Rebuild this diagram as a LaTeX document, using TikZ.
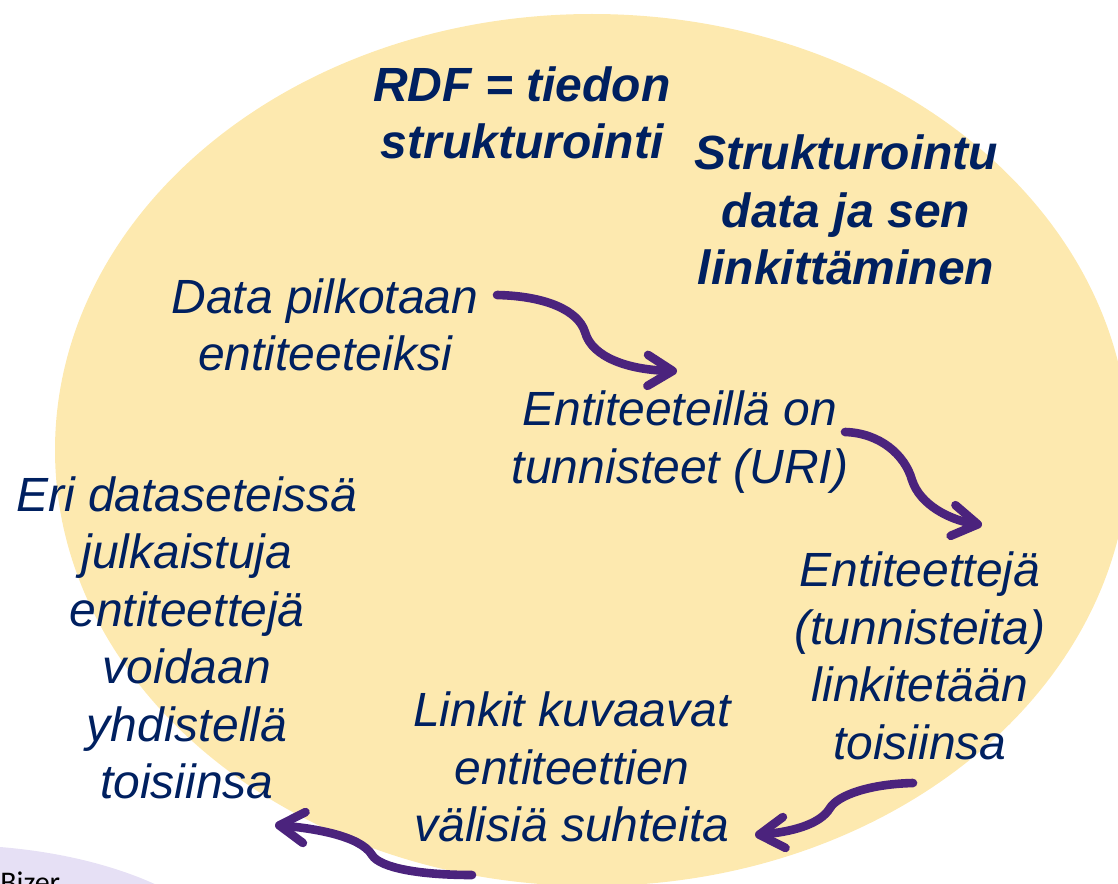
\documentclass[tikz,border=0pt]{standalone}
\usepackage{fontspec}
\setmainfont{Liberation Sans}
\newfontfamily\notefont{Carlito}
\usetikzlibrary{arrows.meta}
\definecolor{ovalyellow}{RGB}{253,233,175}
\definecolor{noteviolet}{RGB}{230,224,245}
\definecolor{textnavy}{RGB}{0,32,96}
\definecolor{arrowpurple}{RGB}{75,35,125}
\begin{document}
\begin{tikzpicture}[
	x=0.5pt, y=-0.5pt,
	idea/.style={align=center, inner sep=0pt, text=textnavy, font=\fontsize{24}{28.75}\selectfont\itshape},
	title/.style={idea, font=\fontsize{24}{28.75}\selectfont\bfseries\itshape},
	flow/.style={draw=arrowpurple, line width=4.3pt, line cap=round, -{Straight Barb[round, length=12.5pt, width=15.5pt]}}
]
\useasboundingbox (0,0) rectangle (1118,883);
\fill[noteviolet] (-50,990) ellipse [x radius=300, y radius=145];
\fill[ovalyellow] (592,450) ellipse [x radius=537, y radius=436];
\node[anchor=base west, inner sep=0pt, font=\notefont\fontsize{15}{18}\selectfont] (source) at (0,892) {Bizer};

\node[title] (rdf) at (522,113) {RDF = tiedon\\strukturointi};
\node[title] (linked) at (846,210) {Strukturointu\\data ja sen\\linkittäminen};
\node[idea] (split) at (325,325) {Data pilkotaan\\entiteeteiksi};
\node[idea] (uri) at (680,442) {Entiteeteillä on\\tunnisteet (URI)};
\node[idea] (link) at (920,656) {Entiteettejä\\(tunnisteita)\\linkitetään\\toisiinsa};
\node[idea] (relate) at (572,767) {Linkit kuvaavat\\entiteettien\\välisiä suhteita};
\node[idea] (combine) at (187,638) {Eri dataseteissä\\julkaistuja\\entiteettejä\\voidaan\\yhdistellä\\toisiinsa};

\coordinate (s1) at (497,295);
\coordinate (e1) at (677,371);
\coordinate (s2) at (845,432);
\coordinate (e2) at (982,525);
\coordinate (s3) at (913,783);
\coordinate (e3) at (755,835);
\coordinate (s4) at (472,875);
\coordinate (e4) at (275,825);
\draw[flow] (s1) .. controls (545,296) and (578,310) .. (585,332) .. controls (592,358) and (630,370) .. (e1);
\draw[flow] (s2) .. controls (880,433) and (905,455) .. (912,480) .. controls (920,505) and (950,520) .. (e2);
\draw[flow] (s3) .. controls (870,784) and (838,795) .. (830,808) .. controls (820,825) and (790,832) .. (e3);
\draw[flow] (s4) .. controls (420,875) and (380,868) .. (372,855) .. controls (360,835) and (310,828) .. (e4);
\end{tikzpicture}
\end{document}
